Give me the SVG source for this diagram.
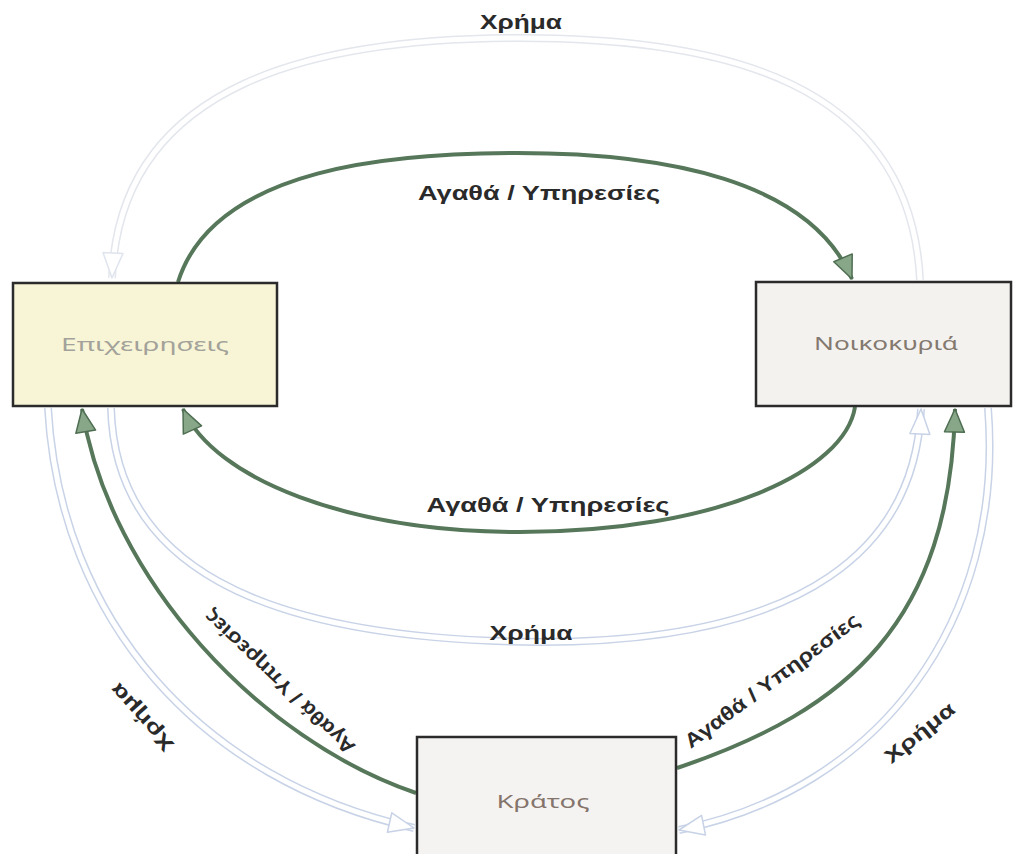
<svg xmlns="http://www.w3.org/2000/svg" width="1014" height="854" viewBox="0 0 1014 854">
  <defs>
    <marker id="ag" markerUnits="userSpaceOnUse" markerWidth="26" markerHeight="24" refX="24" refY="11" orient="auto" overflow="visible">
      <path d="M1,1 L24,11 L1,21 Z" fill="#88a688" stroke="#4e6e52" stroke-width="1.5" stroke-linejoin="round"/>
    </marker>
    <marker id="ap" markerUnits="userSpaceOnUse" markerWidth="28" markerHeight="24" refX="26" refY="11" orient="auto" overflow="visible">
      <path d="M1,1 L26,11 L1,21 Z" fill="#ffffff" stroke="#c7d2e6" stroke-width="1.5" stroke-linejoin="round"/>
    </marker>
    <marker id="af" markerUnits="userSpaceOnUse" markerWidth="28" markerHeight="24" refX="26" refY="11" orient="auto" overflow="visible">
      <path d="M1,1 L26,11 L1,21 Z" fill="#ffffff" stroke="#dfe4ee" stroke-width="1.5" stroke-linejoin="round"/>
    </marker>
  </defs>
  <style>
    .green { fill: none; stroke: #56775a; stroke-width: 4; }
    .greenin { fill: none; stroke: #7c9a7e; stroke-width: 1.2; }
    .paleout { fill: none; stroke: #c8d3e7; stroke-width: 8; }
    .palein { fill: none; stroke: #ffffff; stroke-width: 5; }
    .faintout { fill: none; stroke: #e3e6ec; stroke-width: 8; }
    .box { stroke: #2b2b2b; stroke-width: 2.5; }
    .lbl { font-family: "Liberation Sans", Arial, sans-serif; font-weight: bold; font-size: 20px; fill: #2a2a2a; }
    .ntx { font-family: "Noto Sans", "DejaVu Sans", sans-serif; font-size: 18px; }
  </style>
  <rect x="0" y="0" width="1014" height="854" fill="#ffffff"/>

  <g id="connectors">
    <!-- top faint money arc: Νοικοκυριά -> Επιχειρησεις -->
    <path class="faintout" d="M 920 280 C 910 80, 720 38, 520 38 C 320 38, 120 80, 112 278"/>
    <path class="palein" marker-end="url(#af)" d="M 920 280 C 910 80, 720 38, 520 38 C 320 38, 120 80, 112 278"/>

    <!-- top goods arc: Επιχειρησεις -> Νοικοκυριά -->
    <path class="green" marker-end="url(#ag)" d="M 178 282 C 215 165, 400 153, 517 153 C 665 153, 810 180, 852 279"/>

    <!-- lower goods arc: Νοικοκυριά -> Επιχειρησεις -->
    <path class="green" marker-end="url(#ag)" d="M 855 407 C 845 470, 720 532, 520 532 C 350 532, 215 480, 183 409"/>

    <!-- middle money arc: Επιχειρησεις -> Νοικοκυριά -->
    <path class="paleout" d="M 111 408 C 115 560, 250 640, 540 642 C 810 642, 915 545, 921 409"/>
    <path class="palein" marker-end="url(#ap)" d="M 111 408 C 115 560, 250 640, 540 642 C 810 642, 915 545, 921 409"/>

    <!-- left goods: Κράτος -> Επιχειρησεις -->
    <path class="green" marker-end="url(#ag)" d="M 416 793 C 260 740, 110 580, 82 409"/>

    <!-- left outer money: Επιχειρησεις -> Κράτος -->
    <path class="paleout" d="M 48 408 C 60 620, 200 780, 414 828"/>
    <path class="palein" marker-end="url(#ap)" d="M 48 408 C 60 620, 200 780, 414 828"/>

    <!-- right goods: Κράτος -> Νοικοκυριά -->
    <path class="green" marker-end="url(#ag)" d="M 677 768 C 850 710, 950 620, 955 409"/>

    <!-- right outer money: Νοικοκυριά -> Κράτος -->
    <path class="paleout" d="M 988 408 C 1005 620, 880 790, 679 830"/>
    <path class="palein" marker-end="url(#ap)" d="M 988 408 C 1005 620, 880 790, 679 830"/>

    <!-- labels -->
    <text class="lbl" x="521" y="29" text-anchor="middle" textLength="82" lengthAdjust="spacingAndGlyphs">Χρήμα</text>
    <text class="lbl" x="539" y="200" text-anchor="middle" textLength="242" lengthAdjust="spacingAndGlyphs">Αγαθά / Υπηρεσίες</text>
    <text class="lbl" x="548" y="512" text-anchor="middle" textLength="243" lengthAdjust="spacingAndGlyphs">Αγαθά / Υπηρεσίες</text>
    <text class="lbl" x="531" y="640" text-anchor="middle" textLength="83" lengthAdjust="spacingAndGlyphs">Χρήμα</text>
    <text class="lbl" transform="translate(776,686) rotate(-36.5)" x="0" y="0" text-anchor="middle" textLength="212" lengthAdjust="spacingAndGlyphs">Αγαθά / Υπηρεσίες</text>
    <text class="lbl" transform="translate(924,738) rotate(-39)" x="0" y="0" text-anchor="middle" textLength="84" lengthAdjust="spacingAndGlyphs">Χρήμα</text>
    <text class="lbl" transform="translate(284,677) rotate(-136.5)" x="0" y="0" text-anchor="middle" textLength="200" lengthAdjust="spacingAndGlyphs">Αγαθά / Υπηρεσίες</text>
    <text class="lbl" transform="translate(147,713) rotate(-132)" x="0" y="0" text-anchor="middle" textLength="84" lengthAdjust="spacingAndGlyphs">Χρήμα</text>
  </g>

  <g id="node-epixeiriseis">
    <rect class="box" x="13" y="283" width="264" height="123" fill="#f8f5d6"/>
    <text class="ntx" x="145" y="351" text-anchor="middle" fill="#a3a29a" textLength="168" lengthAdjust="spacingAndGlyphs">Επιχειρησεις</text>
  </g>

  <g id="node-noikokyria">
    <rect class="box" x="756" y="282" width="255" height="124" fill="#f4f2ef"/>
    <text class="ntx" x="886" y="350" text-anchor="middle" fill="#84796f" textLength="144" lengthAdjust="spacingAndGlyphs">Νοικοκυριά</text>
  </g>

  <g id="node-kratos">
    <rect class="box" x="417" y="737" width="259" height="140" fill="#f5f3f1"/>
    <text class="ntx" x="543" y="808" text-anchor="middle" fill="#84746c" textLength="93" lengthAdjust="spacingAndGlyphs">Κράτος</text>
  </g>
</svg>
